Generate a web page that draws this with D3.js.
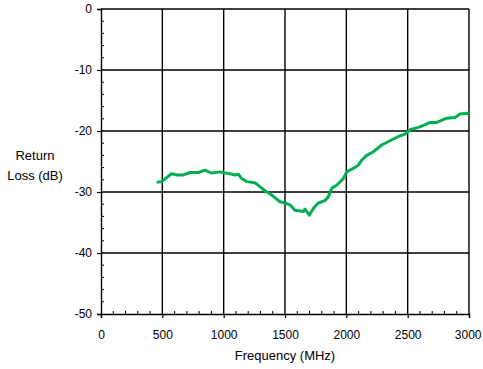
<!DOCTYPE html>
<html>
<head>
<meta charset="utf-8">
<script src="https://cdn.jsdelivr.net/npm/d3@7"></script>
<style>
  body { margin: 0; background: #fff; }
  text { font-family: "Liberation Sans", Arial, sans-serif; fill: #000; }
</style>
</head>
<body>
<div id="chart"></div>
<script>
// frequency (MHz) and return loss (dB)
const freq = [454, 495, 576, 617, 671, 726, 793, 848, 902, 970, 1011, 1052, 1092, 1119, 1147, 1188,
  1255, 1282, 1337, 1392, 1459, 1500, 1541, 1581, 1649, 1663, 1698, 1731, 1771, 1826, 1853, 1881,
  1921, 1975, 2003, 2057, 2098, 2125, 2166, 2220, 2288, 2356, 2424, 2478, 2519, 2587, 2641, 2682,
  2737, 2818, 2886, 2927, 2981, 3000];
const loss = [-28.4, -28.3, -27.0, -27.2, -27.2, -26.8, -26.8, -26.4, -26.9, -26.7, -26.9, -27.0, -27.2, -27.1, -27.8, -28.3,
  -28.5, -28.9, -29.8, -30.5, -31.6, -31.8, -32.1, -33.0, -33.2, -32.8, -33.8, -32.7, -31.8, -31.4, -30.8, -29.4,
  -28.9, -27.8, -26.7, -26.1, -25.6, -24.8, -24.0, -23.4, -22.3, -21.6, -20.9, -20.5, -19.8, -19.4, -19.0, -18.6,
  -18.6, -17.9, -17.8, -17.2, -17.1, -17.2];
const xTicks = [0, 500, 1000, 1500, 2000, 2500, 3000];
const yTicks = [0, -10, -20, -30, -40, -50];

const width = 483, height = 369;
const margin = {top: 9, right: 14, bottom: 55, left: 101};

const svg = d3.select("#chart").append("svg")
  .attr("width", width).attr("height", height);

const x = d3.scaleLinear().domain([0, 3000]).range([margin.left, width - margin.right]);
const y = d3.scaleLinear().domain([-50, 0]).range([height - margin.bottom, margin.top]);

// grid
const grid = svg.append("g").attr("stroke", "#000").attr("stroke-width", 1.4);
grid.selectAll(".gx").data(xTicks.slice(1)).enter().append("line")
  .attr("x1", d => x(d)).attr("x2", d => x(d))
  .attr("y1", y(0)).attr("y2", y(-50));
grid.selectAll(".gy").data(yTicks.slice(0, -1)).enter().append("line")
  .attr("x1", x(0)).attr("x2", x(3000))
  .attr("y1", d => y(d)).attr("y2", d => y(d));

// axes
const yAxis = svg.append("g")
  .attr("transform", "translate(" + x(0) + ",0)")
  .call(d3.axisLeft(y).tickValues(yTicks).tickSize(4).tickPadding(5).tickFormat(d => String(d)));
const xAxis = svg.append("g")
  .attr("transform", "translate(0," + y(-50) + ")")
  .call(d3.axisBottom(x).tickValues(xTicks).tickSize(4).tickPadding(12).tickFormat(d => String(d)));
[xAxis, yAxis].forEach(a => {
  a.select(".domain").attr("stroke", "#000").attr("stroke-width", 1.4);
  a.selectAll(".tick line").attr("stroke", "#000").attr("stroke-width", 1.2);
  a.selectAll("text").style("font-size", "12px").attr("fill", "#000");
});
xAxis.selectAll(".tick:last-of-type text").attr("text-anchor", "end").attr("dx", 12);

// minor ticks
const minorY = d3.range(-48, 0, 2).filter(d => d % 10 !== 0);
svg.append("g").selectAll("line").data(minorY).enter().append("line")
  .attr("x1", x(0)).attr("x2", x(0) + 3)
  .attr("y1", d => y(d)).attr("y2", d => y(d))
  .attr("stroke", "#000").attr("stroke-width", 1);
const minorX = d3.range(100, 3000, 100).filter(d => d % 500 !== 0);
svg.append("g").selectAll("line").data(minorX).enter().append("line")
  .attr("x1", d => x(d)).attr("x2", d => x(d))
  .attr("y1", y(-50)).attr("y2", y(-50) - 3)
  .attr("stroke", "#000").attr("stroke-width", 1);

// curve
const pts = freq.map((f, i) => [f, loss[i]]);
svg.append("path")
  .datum(pts)
  .attr("fill", "none")
  .attr("stroke", "#00b050")
  .attr("stroke-width", 3)
  .attr("stroke-linejoin", "round")
  .attr("d", d3.line().x(d => x(d[0])).y(d => y(d[1])));

// titles
svg.append("text")
  .attr("x", x(1500)).attr("y", 360)
  .attr("text-anchor", "middle")
  .style("font-size", "13px")
  .text("Frequency (MHz)");
const yt = svg.append("text")
  .attr("text-anchor", "middle")
  .style("font-size", "13px");
yt.append("tspan").attr("x", 35).attr("y", 160).text("Return");
yt.append("tspan").attr("x", 35).attr("y", 180).text("Loss (dB)");
</script>
</body>
</html>
